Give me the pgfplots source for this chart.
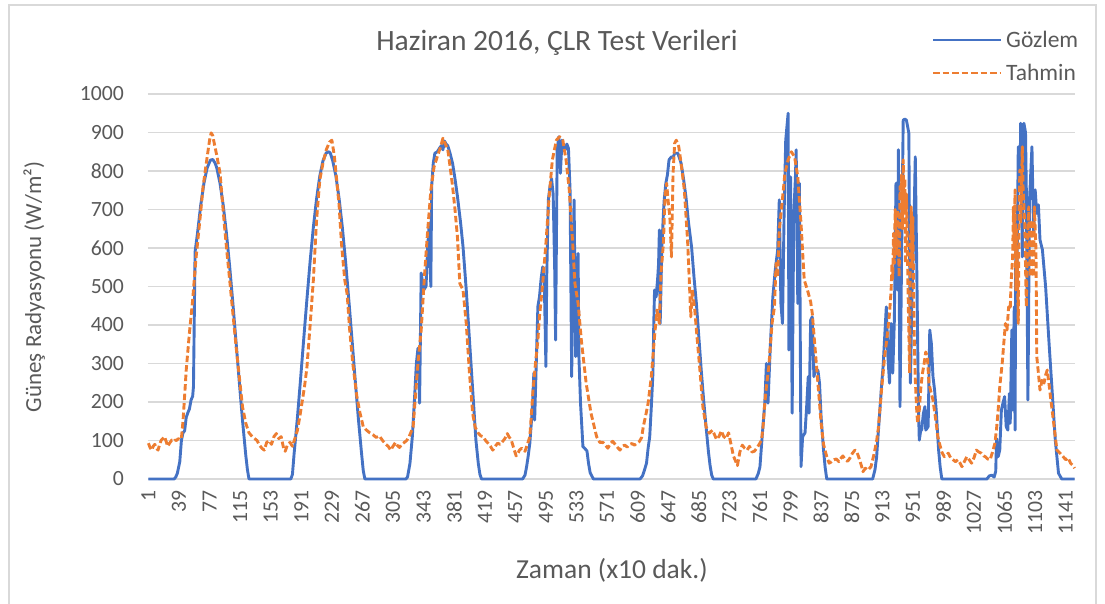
\documentclass[border=0pt]{standalone}
\usepackage{fontspec}
\setmainfont{Carlito}
\usepackage{pgfplots}
\pgfplotsset{compat=1.18}
\definecolor{obsblue}{HTML}{4472C4}
\definecolor{predorange}{HTML}{ED7D31}
\definecolor{gridgrey}{HTML}{D9D9D9}
\definecolor{textgrey}{HTML}{595959}
\begin{document}
\begin{tikzpicture}
\useasboundingbox (-148pt,-125pt) rectangle (957pt,479pt);
\draw[gridgrey, line width=1.2pt] (-139pt,-125pt) -- (-139pt,474pt) -- (948pt,474pt) -- (948pt,-125pt);
\begin{axis}[
  at={(0pt,0pt)}, anchor=south west,
  scale only axis, width=927pt, height=385pt,
  xmin=0.5, xmax=1152.5, ymin=0, ymax=1000,
  clip=false,
  axis line style={draw=none},
  major tick length=0pt,
  xtick={1,39,...,1141},
  ytick={0,100,...,1000},
  ymajorgrids,
  grid style={gridgrey, line width=1.5pt},
  /pgf/number format/assume math mode=true,
  /pgf/number format/1000 sep={},
  ticklabel style={font=\fontsize{21.7}{26}\selectfont, text=textgrey},
  xticklabel style={rotate=90, anchor=east, inner sep=0pt},
  yticklabel style={anchor=east, inner sep=0pt},
  xticklabel shift=11pt,
  yticklabel shift=24pt,
  title={Haziran 2016, ÇLR Test Verileri},
  title style={at={(axis description cs:0.4412,1.0961)}, anchor=base, inner sep=0pt, font=\fontsize{29.5}{34}\selectfont, text=textgrey},
  xlabel={Zaman (x10 dak.)},
  xlabel style={at={(axis description cs:0.5005,-0.2597)}, anchor=base, inner sep=0pt, font=\fontsize{27.5}{31}\selectfont, text=textgrey},
  ylabel={Güneş Radyasyonu (W/m²)},
  ylabel style={at={(axis description cs:-0.1154,0.4987)}, anchor=base, rotate=0, inner sep=0pt, font=\fontsize{23}{27}\selectfont, text=textgrey},
]
% Gozlem (observation)
\addplot[obsblue, line width=2.9pt, line join=round] coordinates {
(1,0) (33,0) (35,5) (37,15) (39,35) (40,45) (42,100) (44,120) (46,125) (48,160) (50,172) (52,182) (54,205) (56,215) (57,240) (59,590) (62,638) (66,711) (70,768) (74,808) (78,828) (81,830) (84,820) (86,808) (90,768) (94,711) (98,638) (102,552) (106,456) (110,354) (114,251) (118,151) (122,62) (124,25) (126,0)
(178,0) (180,12) (182,64) (186,155) (190,257) (194,363) (198,467) (202,566) (206,654) (210,728) (214,787) (218,827) (222,847) (225,850) (227,847) (230,827) (234,787) (238,728) (242,654) (246,566) (250,467) (254,363) (258,257) (262,155) (266,64) (268,22) (270,0)
(321,0) (323,5) (326,40) (329,110) (332,220) (334,300) (336,340) (338,197) (340,535) (343,491) (346,500) (348,600) (350,665) (351,560) (352,500) (353,760) (355,820) (357,846) (360,850) (363,860) (365,866) (367,855) (369,878) (371,870) (373,866) (376,845) (379,820) (382,780) (385,735) (389,665) (392,603) (396,491) (400,361) (404,231) (408,101) (411,40) (413,12) (415,0)
(466,0) (469,10) (471,32) (473,60) (475,93) (477,150) (478,179) (480,275) (481,153) (483,300) (485,448) (487,473) (489,520) (491,551) (493,510) (495,292) (496,525) (498,725) (500,759) (502,780) (504,740) (506,535) (507,361) (509,855) (511,889) (513,794) (515,880) (517,860) (519,855) (521,870) (523,859) (525,751) (527,266) (529,600) (530,725) (532,318) (534,545) (535,586) (536,318) (538,197) (541,84) (543,80) (546,73) (548,40) (550,16) (554,0)
(612,0) (615,8) (617,20) (620,41) (622,80) (624,110) (626,188) (628,275) (629,400) (630,491) (632,473) (634,525) (635,560) (636,647) (637,404) (639,595) (641,690) (642,725) (644,768) (646,790) (648,829) (651,837) (653,835) (655,846) (659,846) (663,820) (666,780) (669,733) (672,670) (676,603) (679,525) (682,456) (685,370) (688,283) (691,205) (694,136) (697,70) (699,35) (701,10) (703,0)
(756,0) (759,15) (761,32) (763,90) (765,145) (767,197) (769,300) (771,197) (774,352) (777,473) (780,543) (783,595) (785,725) (787,456) (789,404) (791,690) (793,880) (796,950) (797,335) (799,785) (801,171) (803,690) (805,780) (806,855) (808,456) (810,768) (812,32) (814,110) (817,120) (819,188) (821,266) (822,171) (824,413) (826,421) (828,266) (830,283) (833,283) (835,249) (837,160) (840,75) (842,30) (844,0)
(901,0) (904,25) (906,58) (908,120) (910,179) (912,240) (914,292) (916,370) (918,447) (920,318) (922,249) (924,404) (926,275) (928,412) (930,768) (932,491) (933,855) (935,188) (937,578) (939,932) (941,935) (943,932) (945,910) (946,898) (948,249) (950,491) (952,621) (954,837) (956,525) (958,180) (959,101) (961,130) (962,127) (964,170) (966,188) (967,127) (970,136) (972,387) (974,352) (976,266) (978,231) (980,179) (983,75) (985,30) (987,0)
(1043,0) (1046,8) (1049,10) (1052,5) (1054,20) (1055,105) (1057,58) (1059,75) (1061,179) (1063,197) (1065,214) (1067,136) (1069,127) (1071,222) (1072,145) (1074,387) (1075,179) (1077,447) (1078,127) (1079,664) (1080,447) (1082,863) (1084,751) (1085,924) (1087,577) (1089,924) (1091,900) (1092,751) (1094,205) (1096,725) (1099,863) (1101,638) (1103,751) (1105,690) (1107,712) (1109,621) (1112,595) (1116,499) (1120,361) (1124,231) (1128,101) (1132,15) (1136,0) (1152,0)
};
% Tahmin (prediction)
\addplot[predorange, line width=2.9pt, line join=round, dash pattern=on 6.5pt off 3pt] coordinates {
(1,93) (3,82) (5,75) (7,85) (9,90) (11,80) (13,75) (15,90) (17,101) (19,105) (21,110) (23,98) (25,85) (27,92) (30,101) (32,98) (34,101) (36,100) (38,105) (40,102) (42,105)
(44,150) (46,215) (48,283) (52,380) (56,465) (60,570) (65,673) (69,760) (73,821) (77,880) (79,899) (81,892) (83,870) (86,840) (90,795) (93,720) (96,647) (99,580) (102,517) (106,430) (110,343) (114,265) (118,187) (122,145) (126,120) (130,110)
(133,105) (136,100) (139,88) (142,80) (145,75) (148,95) (151,100) (154,90) (157,110) (160,118) (163,105) (166,110) (169,80) (171,72) (174,90) (177,95) (180,85) (183,105) (186,125)
(189,160) (192,200) (195,240) (198,290) (202,400) (206,517) (210,673) (214,777) (218,821) (222,855) (226,875) (229,880) (232,840) (235,777) (238,710) (241,610) (245,517) (248,480) (251,390) (255,300) (260,215) (264,171) (268,136) (272,127) (276,120)
(280,115) (284,108) (288,112) (292,100) (296,90) (299,85) (302,75) (305,85) (308,95) (310,88) (313,82) (316,90) (319,95) (322,100) (325,110) (328,125)
(330,136) (333,220) (336,301) (340,387) (344,525) (348,644) (352,750) (356,811) (360,837) (364,862) (367,885) (370,870) (373,856) (376,810) (379,760) (382,700) (385,630) (388,508) (392,491) (396,404) (400,275) (404,170) (407,135) (411,119) (414,112) (417,110)
(420,100) (423,93) (426,85) (429,75) (432,85) (435,93) (438,90) (441,97) (444,105) (447,118) (449,110) (452,101) (455,80) (458,60) (461,70)
(462,75) (465,80) (469,72) (472,90) (475,110) (477,170) (479,231) (482,300) (485,360) (487,422) (491,508) (495,612) (499,733) (503,829) (508,880) (512,889) (516,880) (520,829) (524,751) (528,621) (531,508) (535,456) (539,361) (545,249) (551,171) (558,110) (562,95)
(566,95) (569,88) (572,80) (575,92) (578,98) (581,90) (584,82) (587,75) (590,85) (593,88) (596,83) (599,90) (602,92) (605,88) (608,93) (611,97) (614,108)
(616,136) (619,165) (622,197) (626,266) (630,370) (633,439) (636,404) (638,534) (641,612) (643,733) (645,768) (647,720) (649,681) (651,577) (653,794) (655,872) (657,880) (660,864) (663,820) (667,751) (671,621) (673,525) (675,421) (677,491) (680,439) (682,387) (686,292) (690,188) (694,136) (698,119) (702,127) (707,103)
(710,110) (713,125) (716,110) (719,105) (722,120) (725,90) (728,60) (730,50) (733,35) (736,70) (739,88) (742,80) (745,75) (748,85) (751,70) (754,72) (757,80) (760,90)
(763,101) (765,140) (767,197) (769,240) (772,292) (776,404) (779,447) (781,560) (783,525) (785,647) (788,707) (792,794) (796,829) (800,850) (804,837) (808,785) (812,664) (816,517) (820,491) (824,460) (826,430) (829,352) (833,249) (837,145) (840,90) (844,58) (847,41)
(850,45) (853,50) (856,52) (859,45) (862,55) (864,60) (867,50) (870,46) (873,55) (876,67) (879,75) (881,73) (884,55) (887,35) (889,19) (892,28) (895,23) (899,32)
(903,67) (906,100) (908,130) (910,179) (912,230) (914,275) (916,320) (918,352) (920,390) (922,430) (924,491) (925,560) (926,520) (927,638) (928,560) (929,700) (930,647) (931,580) (932,700) (933,600) (934,525) (935,760) (936,725) (937,790) (938,650) (939,829) (940,700) (941,780) (942,560) (943,740) (944,620) (945,491) (946,380) (947,275) (948,600) (949,707) (950,550) (951,680) (952,480) (953,335) (954,260) (955,214) (956,170) (957,145) (959,179) (961,240) (963,275) (965,300) (967,330) (969,318) (971,249) (973,230) (976,205) (978,175) (980,145) (982,110) (984,93) (987,70) (990,58)
(995,67) (998,55) (1001,50) (1004,45) (1007,50) (1010,40) (1012,32) (1015,45) (1018,58) (1021,50) (1024,41) (1027,55) (1030,75) (1033,70) (1036,67) (1039,60) (1041,58)
(1044,52) (1047,50) (1050,70) (1053,93) (1055,130) (1057,179) (1059,240) (1062,300) (1064,352) (1066,404) (1068,387) (1070,447) (1072,440) (1073,508) (1075,577) (1076,707) (1077,595) (1078,751) (1079,491) (1080,647) (1082,404) (1083,700) (1084,803) (1085,664) (1087,863) (1088,751) (1090,664) (1092,447) (1093,577) (1095,707) (1097,525) (1099,673) (1101,525) (1102,707) (1104,595) (1105,318) (1107,275) (1109,231) (1112,260) (1114,249) (1116,270) (1118,283) (1120,250) (1122,214) (1124,180) (1126,145) (1128,110) (1130,75) (1134,67) (1137,60) (1141,50) (1144,55) (1147,41) (1150,35) (1152,28)
};
\end{axis}
% legend
\draw[obsblue, line width=2.9pt] (785pt,439pt) -- (853pt,439pt);
\node[anchor=base west, inner sep=0pt, font=\fontsize{23.5}{27}\selectfont, text=textgrey] at (858pt,431.6pt) {Gözlem};
\draw[predorange, line width=2.9pt, dash pattern=on 6.5pt off 3pt] (785pt,406pt) -- (853pt,406pt);
\node[anchor=base west, inner sep=0pt, font=\fontsize{23.5}{27}\selectfont, text=textgrey] at (858pt,398.6pt) {Tahmin};
\end{tikzpicture}
\end{document}
